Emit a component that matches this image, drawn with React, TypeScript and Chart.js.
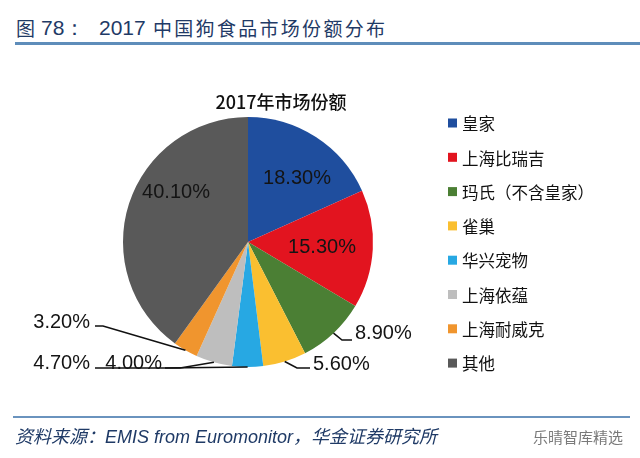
import React, { useEffect, useRef } from "react";
import { Chart, registerables } from "chart.js";

Chart.register(...registerables);

// ---------- data ----------
const categories = [
  "皇家",
  "上海比瑞吉",
  "玛氏（不含皇家）",
  "雀巢",
  "华兴宠物",
  "上海依蕴",
  "上海耐威克",
  "其他",
];
const shares = [18.3, 15.3, 8.9, 5.6, 4.0, 4.7, 3.2, 40.1];
const shareLabels = ["18.30%", "15.30%", "8.90%", "5.60%", "4.00%", "4.70%", "3.20%", "40.10%"];
const sliceColors = [
  "#1F4E9E",
  "#E2141F",
  "#4B7F34",
  "#FABF30",
  "#27A8E3",
  "#BEBEBE",
  "#F0952E",
  "#595959",
];
const chartTitle = "2017年市场份额";
const pageTitleFig = "图";
const pageTitleNum = "78：";
const pageTitleYear = "2017";
const pageTitleText = "中国狗食品市场份额分布";
const sourceText = "资料来源：EMIS from Euromonitor，华金证券研究所";
const watermarkText = "乐晴智库精选";

// ---------- label layout (offsets from pie centre, px) ----------
type LabelLayout =
  | { kind: "in"; tx: number; ty: number }
  | { kind: "out"; path: [number, number][]; tx: number; ty: number; align: CanvasTextAlign };

const labelLayout: LabelLayout[] = [
  { kind: "in", tx: 49, ty: -64 },
  { kind: "in", tx: 74, ty: 5 },
  { kind: "out", path: [[94, 98], [104, 98]], tx: 107, ty: 91, align: "left" },
  { kind: "out", path: [[49, 126], [62, 126]], tx: 65, ty: 122, align: "left" },
  { kind: "out", path: [[-83, 126]], tx: -86, ty: 121, align: "right" },
  { kind: "out", path: [[-68, 126], [-153, 126]], tx: -158, ty: 121, align: "right" },
  { kind: "out", path: [[-145, 84], [-153, 84]], tx: -158, ty: 80, align: "right" },
  { kind: "in", tx: -72, ty: -50 },
];

const overlayPlugin = {
  id: "overlay",
  afterDatasetsDraw(chart: any) {
    const ctx: CanvasRenderingContext2D = chart.ctx;
    const meta = chart.getDatasetMeta(0);
    meta.data.forEach((arc: any, i: number) => {
      const { x, y, startAngle, endAngle, outerRadius } = arc.getProps(
        ["x", "y", "startAngle", "endAngle", "outerRadius"],
        true
      );
      const mid = (startAngle + endAngle) / 2;
      const L = labelLayout[i];
      ctx.save();
      ctx.font = '20px "Liberation Sans", Arial, sans-serif';
      ctx.fillStyle = "#141414";
      ctx.textBaseline = "middle";
      if (L.kind === "in") {
        ctx.textAlign = "center";
        ctx.fillText(shareLabels[i], x + L.tx, y + L.ty);
      } else {
        const sx = x + Math.cos(mid) * outerRadius;
        const sy = y + Math.sin(mid) * outerRadius;
        ctx.strokeStyle = "#111";
        ctx.lineWidth = 1.6;
        ctx.beginPath();
        ctx.moveTo(sx, sy);
        L.path.forEach((p) => ctx.lineTo(x + p[0], y + p[1]));
        ctx.stroke();
        ctx.textAlign = L.align;
        ctx.fillText(shareLabels[i], x + L.tx, y + L.ty);
      }
      ctx.restore();
    });
  },
  afterDraw(chart: any) {
    const ctx: CanvasRenderingContext2D = chart.ctx;
    const area = chart.chartArea;
    const cx = (area.left + area.right) / 2;
    ctx.save();
    // chart title
    ctx.font = '500 18px "Noto Sans CJK SC", sans-serif';
    ctx.fillStyle = "#111";
    ctx.textAlign = "center";
    ctx.textBaseline = "middle";
    ctx.fillText(chart.options.plugins.customTitle.text, cx + 33, area.top - 15);
    // legend
    const labels: string[] = chart.data.labels;
    const colors: string[] = chart.data.datasets[0].backgroundColor;
    ctx.font = '16.5px "Noto Sans CJK SC", sans-serif';
    ctx.textAlign = "left";
    labels.forEach((lab, i) => {
      const ly = area.top + 6 + i * 34.3;
      ctx.fillStyle = colors[i];
      ctx.fillRect(area.right + 75, ly - 4.5, 9, 9);
      ctx.fillStyle = "#111";
      ctx.fillText(lab, area.right + 89, ly + 1);
    });
    ctx.restore();
  },
};

export default function App() {
  const canvasRef = useRef<HTMLCanvasElement | null>(null);

  useEffect(() => {
    if (!canvasRef.current) return;
    const chart = new Chart(canvasRef.current, {
      type: "pie",
      data: {
        labels: categories,
        datasets: [
          {
            data: shares,
            backgroundColor: sliceColors,
            borderWidth: 0,
            hoverOffset: 0,
          },
        ],
      },
      options: {
        responsive: false,
        animation: false,
        layout: { padding: { top: 117, bottom: 91, left: 123, right: 267 } },
        plugins: {
          legend: { display: false },
          title: { display: false },
          tooltip: { enabled: false },
          customTitle: { text: chartTitle },
        } as any,
        events: [],
      },
      plugins: [overlayPlugin],
    });
    return () => chart.destroy();
  }, []);

  const cjk = '"Noto Sans CJK SC", "Liberation Sans", sans-serif';
  const latin = '"Liberation Sans", Arial, sans-serif';
  const navy = "#1F3A66";

  return (
    <div
      style={{
        position: "fixed",
        left: 0,
        top: 0,
        width: 640,
        height: 458,
        background: "#fff",
        overflow: "hidden",
      }}
    >
      <div style={{ position: "absolute", left: 16, top: 17, fontFamily: cjk, fontSize: 19, lineHeight: "22px", color: navy, whiteSpace: "nowrap" }}>
        {pageTitleFig}
      </div>
      <div style={{ position: "absolute", left: 41, top: 17, fontFamily: latin, fontSize: 21, lineHeight: "22px", color: navy, whiteSpace: "nowrap" }}>
        {pageTitleNum}
      </div>
      <div style={{ position: "absolute", left: 99, top: 17, fontFamily: latin, fontSize: 21, lineHeight: "22px", color: navy, whiteSpace: "nowrap" }}>
        {pageTitleYear}
      </div>
      <div style={{ position: "absolute", left: 153, top: 17, fontFamily: cjk, fontSize: 19, lineHeight: "22px", color: navy, whiteSpace: "nowrap", letterSpacing: "2.3px" }}>
        {pageTitleText}
      </div>
      <div style={{ position: "absolute", left: 15, top: 42, width: 625, height: 2.5, background: "#5E8DBA" }} />
      <canvas
        ref={canvasRef}
        width={640}
        height={458}
        style={{ position: "absolute", left: 0, top: 0, width: 640, height: 458 }}
      />
      <div style={{ position: "absolute", left: 13, top: 416, width: 617, height: 1.5, background: "#6A93BE" }} />
      <div style={{ position: "absolute", left: 15, top: 426, fontFamily: '"Liberation Sans", "Noto Sans CJK SC", sans-serif', fontStyle: "italic", fontSize: 18, lineHeight: "22px", color: navy, whiteSpace: "nowrap" }}>
        {sourceText}
      </div>
      <div style={{ position: "absolute", left: 533, top: 427, fontFamily: cjk, fontSize: 15, lineHeight: "20px", color: "#7a7a7a", whiteSpace: "nowrap" }}>
        {watermarkText}
      </div>
    </div>
  );
}
